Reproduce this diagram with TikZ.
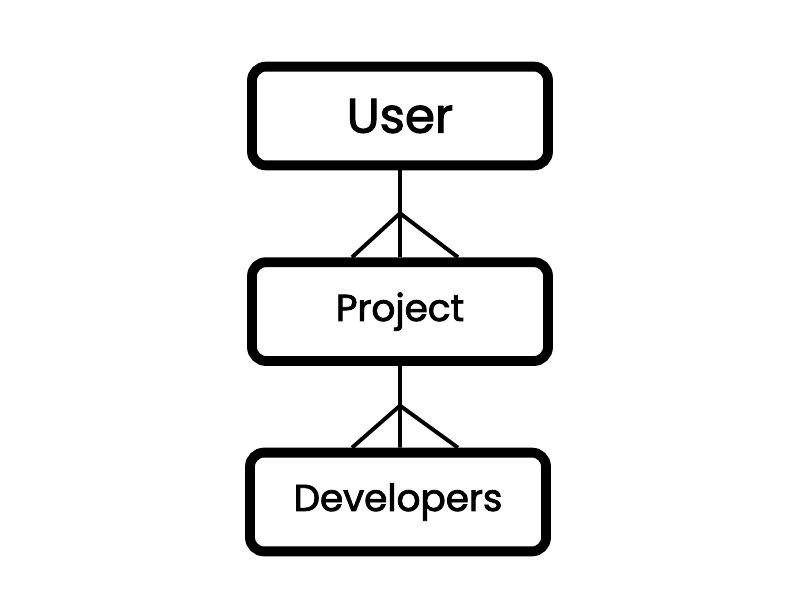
\documentclass[tikz,border=0pt]{standalone}
\usepackage{fontspec}
\setmainfont{Poppins}[FakeBold=2.2]
\usetikzlibrary{positioning,calc}
\tikzset{
  entity/.style={draw=black,line width=7pt,rounded corners=10pt,fill=white,
    minimum width=7.4cm,minimum height=2.47cm,inner sep=0pt},
  link/.style={black,line width=2.8pt},
}
\begin{document}
\begin{tikzpicture}
\useasboundingbox (0,0) rectangle (20,15);
% Entities
\node[entity,font=\fontsize{34.5}{38}\selectfont] (user) at (10,12.1) {User};
\node[entity,font=\fontsize{26.6}{30}\selectfont] (project) at (10,7.21) {Project};
\node[entity,font=\fontsize{26.6}{30}\selectfont] (devs) at (9.95,2.45) {Developers};

% User -- Project (one to many)
\coordinate (fork1) at ($(project.north)+(0,1.1)$);
\draw[link] (user.south) -- (project.north);
\draw[link] ($(project.north)+(-1.2,0)$) -- (fork1) -- ($(project.north)+(1.45,0)$);

% Project -- Developers (one to many)
\coordinate (fork2) at ($(devs.north)+(0.05,1.05)$);
\draw[link] (project.south) -- ($(devs.north)+(0.05,0)$);
\draw[link] ($(devs.north)+(-1.15,0)$) -- (fork2) -- ($(devs.north)+(1.5,0)$);
\end{tikzpicture}
\end{document}
